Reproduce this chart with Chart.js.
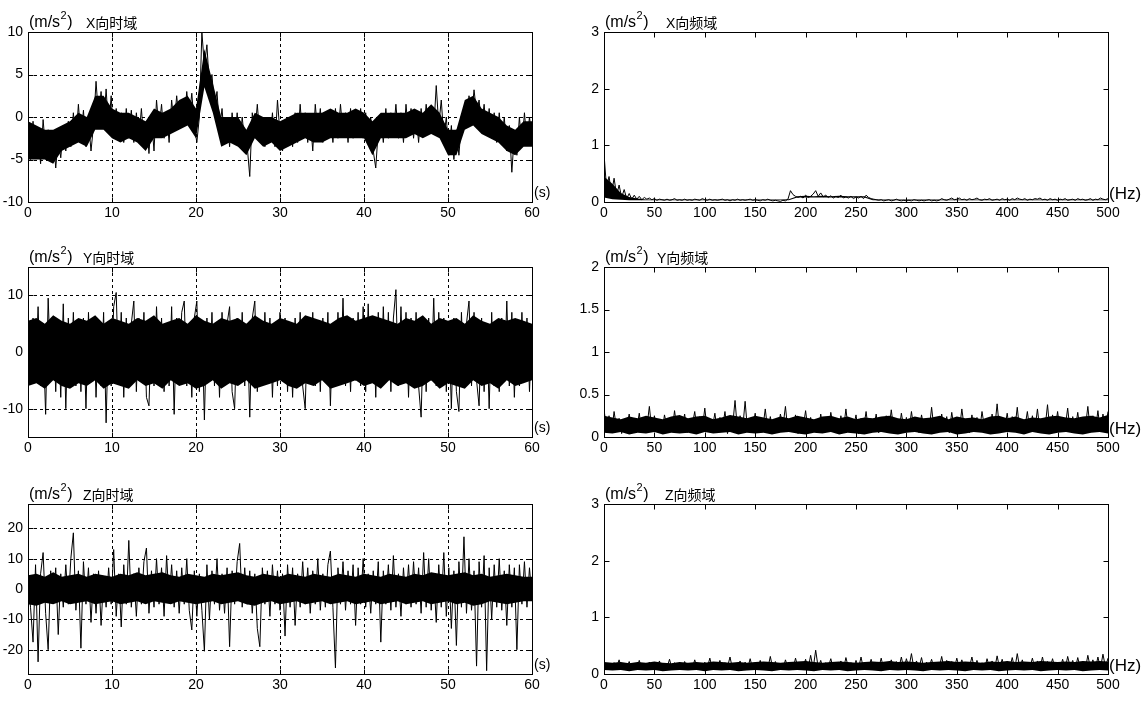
<!DOCTYPE html>
<html><head><meta charset="utf-8">
<script src="https://cdn.jsdelivr.net/npm/chart.js@4.4.1/dist/chart.umd.min.js"></script>
<style>
html,body{margin:0;padding:0;background:#fff;width:1143px;height:703px;overflow:hidden}
canvas{position:absolute}
</style></head><body>
<script>
// ---------- tick labels ----------
const timeTicks = [0,10,20,30,40,50,60];
const freqTicks = [0,50,100,150,200,250,300,350,400,450,500];
const xTimeYTicks = [-10,-5,0,5,10];
const yTimeYTicks = [-10,0,10];
const zTimeYTicks = [-20,-10,0,10,20];
const xFreqYTicks = [0,1,2,3];
const yFreqYTicks = [0,0.5,1,1.5,2];
const zFreqYTicks = [0,1,2,3];

// ---------- traces (peaks / troughs), time 0..60 s, freq 0..500 Hz ----------
const xTime = [
-1,-5,-0.5,-4.5,-2,-5.5,-0.3,-4,-1.5,-5,-2,-6,-2.5,-4.8,
-1.5,-4,-0.5,-3.5,0.5,-3,1.5,-2.5,0.8,-3.5,
-0.5,-4,-1,
4.2,0,3,-1,3.3,-1.5,2.5,
-2.5,1,-2,0.5,-3,1,-2.5,
0.8,-3,0.5,-2.5,1,-3,
-0.5,-4.3,0,-4,
2,-1.5,1.5,
-2.5,0.5,-3,
2,-1,2.5,-0.5,2,-0.5,3,0,2.8,-1,
-3,0,
10,6,8.5,3.5,5,1,3,-1.5,
1,-3,0,-3.5,0.5,-3,0.5,-3.5,0,-3,
-3.5,-7,
0.5,-2,1.5,-2.5,
-0.5,-3.5,0,-3,0.5,-3.5,2,-2,
-4,-1,-3.5,
0,-3.5,0.5,-3,1.5,-2.5,0.5,-3,0,-4,1.5,-2,1,-3,0.5,-2.5,0,-3,1,-2.5,1.5,-2,0.5,-3,1,-2.5,0.5,-2,1,-2.5,
0.5,-2.5,0,-4,-6,-1.5,
0,-3,1,-2.5,0.5,-2,1.5,-2.5,0.5,-3,1.5,-2,1,-2.5,0.5,-3,1,-2,1.5,-1.5,
0.5,-1.5,3.7,-1,2,-2.5,
0,-4.5,-1,-5,-1.5,-4.5,-0.5,
1,-1,2.5,0,3.2,0.5,
2,-1,1.5,-2,1,-2.5,0.5,-3,
0.5,-3,0,-4,-1,-6.5,-2,-4.5,0,
-3.5,0.5,-3,0,-2.5
];
const yTime = [
4,-5,6,-4,8,-6,3,-11,9.5,-3,6,-7,5,-8,8.5,-10,6,-5,7,-6,
5,-7,6,-10,7,-5,6,-8,4,-6,7,-12.5,5,-6,8,10.5,-5,7,-8,6,
-6,5,9,-7,6,-5,7,-8,-9.5,5,-6,8,-4,6,-7,5,-6,8,-11,6,
-5,7,9,-6,5,-8,6,9,-7,5,-12,6,-5,7,-6,5,-8,7,-6,5,
8,-7,-10,6,-5,7,-6,5,-11.5,6,9,-7,5,-6,7,-5,6,-8,5,-6,
7,-5,6,-7,5,-8,6,-5,7,-6,-10,6,-5,7,-6,5,-7,6,-5,7,
-9.5,5,-6,7,-5,9.5,-6,5,-7,6,-5,7,-6,8,-7,8.5,-5,6,-8,7,
-6,8,-5,7,-7,6,11,-6,8,-5,7,-8,6,-5,7,-6,-11.5,5,-7,6,
-5,9.5,-6,7,-5,6,-7,5,-10,6,-7,-10.5,7,-6,5,9,-6,7,-5,-9.5,
6,-7,5,-10,7,-6,5,-7,6,-5,9,-6,7,-8,5,-6,7,-5,6,-7,4
];
const zTime = [
3,-6,-17.5,8,-24,5,12,-8,-20,6,-4,7,-15,5,-6,8,-5,10,18.5,-7,
6,-19.5,9,-5,7,-11,5,-8,6,-12,4,-6,7,-5,13,-9,5,-12.5,8,-5,
16,-6,5,-9,7,-5,9,13.5,-8,6,-6,10,-5,7,-9,11,-4,8,-6,6,
-8,7,-5,10,-7,-13.5,6,-9,5,-7,-20.5,8,-10,6,-5,10,-7,5,-8,7,
-19,6,-5,9,15,-6,7,-5,6,-8,5,-13,-19,7,-5,6,-9,8,-5,6,
-7,5,-15.5,8,-6,7,-12,5,-6,9,-5,7,-8,6,-5,10,-7,5,-6,8,
12.5,-6,-26,7,-5,9,-7,6,-5,8,-12,7,-5,10,-6,5,-8,6,-5,9,
-17.5,6,-5,8,-7,11,-6,5,-9,7,-5,8,-6,9,-5,7,-8,12,-6,10,
-7,5,-11,8,-6,12,-9,7,-13,6,-18.6,9,-6,17.2,-8,10,-7,6,-25.4,9,
-6,11,-26.9,7,-10,8,-6,10,-7,6,-12,8,-6,7,-20,8,-5,9,-6,7,-3
];
const xFreq = [
0.85,0.25,0.45,0.15,0.42,0.12,0.3,0.08,0.22,0.06,0.15,0.05,0.12,0.05,0.1,0.04,0.08,0.05,0.07,0.04,
0.06,0.03,0.05,0.04,0.03,0.05,0.03,0.04,0.06,0.03,0.04,0.03,0.05,0.03,0.04,0.03,0.05,0.04,0.03,0.06,
0.04,0.03,0.05,0.03,0.04,0.03,0.04,0.05,0.03,0.04,0.02,0.04,0.03,0.05,0.03,0.04,0.03,0.04,0.05,0.03,
0.04,0.03,0.02,0.04,0.03,0.05,0.03,0.02,0.03,0.02,0.01,0.03,0.02,0.05,0.2,0.13,0.1,0.08,0.1,0.07,
0.12,0.08,0.1,0.14,0.2,0.1,0.16,0.09,0.12,0.08,0.11,0.07,0.1,0.08,0.12,0.07,0.09,0.07,0.1,0.06,
0.09,0.07,0.1,0.06,0.12,0.08,0.06,0.05,0.04,0.03,0.04,0.02,0.03,0.04,0.02,0.03,0.05,0.03,0.02,0.03,
0.02,0.03,0.02,0.04,0.03,0.02,0.03,0.02,0.03,0.04,0.02,0.03,0.02,0.03,0.06,0.04,0.03,0.05,0.07,0.04,
0.05,0.07,0.04,0.05,0.03,0.06,0.04,0.05,0.07,0.04,0.03,0.05,0.04,0.06,0.03,0.04,0.05,0.03,0.06,0.04,
0.05,0.03,0.06,0.04,0.07,0.05,0.04,0.06,0.03,0.05,0.04,0.06,0.05,0.07,0.04,0.05,0.03,0.06,0.04,0.05,
0.03,0.05,0.04,0.06,0.03,0.04,0.05,0.03,0.06,0.04,0.05,0.03,0.04,0.06,0.03,0.05,0.04,0.07,0.05,0.04,0.06
];
const yFreq = [
0.33,0.08,0.25,0.05,0.3,0.1,0.22,0.04,0.2,0.12,0.27,0.06,0.18,0.1,0.28,0.05,0.21,0.11,0.36,0.07,
0.25,0.09,0.19,0.05,0.26,0.12,0.2,0.06,0.31,0.08,0.22,0.1,0.27,0.05,0.19,0.13,0.3,0.07,0.24,0.09,
0.34,0.06,0.21,0.11,0.28,0.05,0.23,0.1,0.3,0.04,0.2,0.12,0.43,0.07,0.25,0.09,0.42,0.06,0.22,0.11,
0.28,0.05,0.2,0.1,0.33,0.07,0.24,0.09,0.19,0.05,0.27,0.12,0.36,0.06,0.22,0.1,0.26,0.04,0.2,0.11,
0.31,0.07,0.23,0.09,0.18,0.05,0.27,0.1,0.21,0.06,0.29,0.12,0.2,0.05,0.25,0.08,0.33,0.07,0.19,0.11,
0.26,0.04,0.22,0.1,0.3,0.06,0.18,0.09,0.27,0.05,0.21,0.12,0.25,0.07,0.32,0.08,0.2,0.05,0.28,0.1,
0.23,0.06,0.3,0.09,0.19,0.05,0.26,0.11,0.22,0.07,0.35,0.08,0.2,0.06,0.27,0.1,0.24,0.05,0.29,0.09,
0.21,0.07,0.33,0.1,0.2,0.05,0.26,0.08,0.23,0.06,0.3,0.11,0.19,0.05,0.27,0.09,0.39,0.07,0.22,0.1,
0.28,0.06,0.24,0.09,0.35,0.05,0.21,0.11,0.3,0.07,0.25,0.08,0.33,0.06,0.2,0.1,0.38,0.05,0.26,0.09,
0.3,0.07,0.22,0.11,0.34,0.06,0.24,0.09,0.29,0.05,0.21,0.1,0.36,0.07,0.25,0.08,0.31,0.06,0.27,0.1,0.3
];
const zFreq = [
0.2,0.1,0.17,0.08,0.2,0.12,0.25,0.09,0.18,0.11,0.22,0.08,0.16,0.1,0.24,0.09,0.17,0.12,0.21,0.08,
0.19,0.1,0.23,0.07,0.18,0.11,0.26,0.09,0.2,0.1,0.17,0.08,0.22,0.11,0.19,0.09,0.25,0.1,0.18,0.08,
0.21,0.11,0.28,0.09,0.19,0.1,0.24,0.08,0.2,0.12,0.3,0.09,0.18,0.11,0.23,0.08,0.21,0.1,0.27,0.09,
0.19,0.11,0.24,0.08,0.2,0.1,0.31,0.09,0.22,0.1,0.18,0.08,0.25,0.11,0.2,0.09,0.28,0.1,0.21,0.12,
0.26,0.09,0.33,0.1,0.42,0.11,0.24,0.08,0.2,0.12,0.27,0.09,0.19,0.1,0.23,0.08,0.29,0.11,0.2,0.09,
0.24,0.1,0.3,0.08,0.19,0.11,0.26,0.09,0.21,0.1,0.28,0.08,0.2,0.12,0.25,0.09,0.22,0.1,0.3,0.08,
0.27,0.11,0.36,0.09,0.23,0.1,0.29,0.08,0.21,0.12,0.26,0.09,0.2,0.1,0.31,0.08,0.24,0.11,0.22,0.09,
0.28,0.1,0.25,0.08,0.21,0.12,0.3,0.09,0.24,0.1,0.2,0.08,0.27,0.11,0.23,0.09,0.32,0.1,0.26,0.08,
0.22,0.11,0.29,0.09,0.36,0.1,0.25,0.08,0.21,0.12,0.28,0.09,0.23,0.1,0.3,0.08,0.22,0.11,0.27,0.09,
0.2,0.1,0.26,0.08,0.31,0.12,0.24,0.09,0.29,0.1,0.22,0.08,0.33,0.11,0.25,0.09,0.3,0.1,0.35,0.12,0.28
];

// ---------- dense core of each trace (upper / lower edge of the solid band), 61 samples ----------
const xTimeHi = [-0.5,-1,-1.5,-1.5,-1,-0.5,0.5,0,2.5,2.5,1,0.5,0.5,0,-0.5,1,0.5,1,2,2.5,1,8,4,0,0,0,-1.5,0.5,0,0,-0.5,0,0.5,0.5,0.5,0.5,1,0.5,0.5,1,0.5,-0.5,0.5,0.5,0.5,0.5,1,0.5,1.5,0.5,-1.5,-1.5,2,2.5,1,0.5,0,-1,-1.5,-0.5,-0.5];
const xTimeLo = [-5,-5,-5,-5.5,-4,-3.5,-3,-3.5,-1.5,-1.5,-2.5,-3,-2.5,-3,-4,-2.5,-2.5,-2,-1.5,-1,-2.5,3.5,0.5,-3.5,-3,-3.5,-4.5,-2.5,-3.5,-3,-4,-3.5,-3,-2.5,-3,-3,-2.5,-2.5,-2.5,-2.5,-2.5,-4.5,-2.5,-2.5,-2.5,-2.5,-2,-2.5,-2,-2.5,-4.5,-4.5,-1.5,-1,-2,-2.5,-3,-4,-4.5,-3.5,-3.5];
const yTimeHi = [5.5,6,5,6.5,5.5,5,6,5.5,6.5,5,6,5.5,5,6,5.5,6.5,5,5.5,6,5,6.5,5.5,5,6,5.5,6,5,6.5,5.5,5,6,5.5,5,6.5,6,5.5,5,6,6.5,5.5,6,6.5,6,5.5,5,6,5.5,6.5,5,6,5.5,6,5,6.5,5.5,5,6,5.5,6,5.5,5];
const yTimeLo = [-6,-5.5,-6.5,-5,-6,-6.5,-5.5,-6,-5,-6.5,-5.5,-6,-6.5,-5,-6,-5.5,-6.5,-5,-6,-5.5,-6.5,-6,-5,-6.5,-5.5,-6,-5,-6.5,-6,-5.5,-5,-6,-6.5,-5.5,-6,-5,-6.5,-6,-5.5,-5,-6,-5.5,-6.5,-5,-6,-5.5,-6.5,-6,-5,-6.5,-5.5,-6,-6.5,-5,-6,-5.5,-6.5,-5,-6,-5.5,-5];
const zTimeHi = [4.5,5,4,5.5,4,4.5,5,4,5,4.5,4,5,4.5,5.5,4.5,5,5.5,4.5,4,5,4.5,4,5,4.5,5,5.5,4.5,4,5,4.5,4,5,4.5,4,5,4.5,4,5,4.5,4,5,4.5,4,5,4.5,4,5,4.5,5.5,5,4.5,5,5.5,4.5,5,4,4.5,5,4.5,4,4];
const zTimeLo = [-5,-5.5,-4.5,-5,-4,-5,-4.5,-4,-5,-4.5,-4,-5,-4.5,-4,-5,-4,-4.5,-5,-4,-4.5,-5,-4.5,-4,-5,-4.5,-4,-5,-5.5,-4.5,-4,-5,-4.5,-4,-5,-4.5,-4,-5,-4.5,-4,-5,-4.5,-4,-5,-4.5,-4,-5,-4.5,-4,-5,-4.5,-4,-5,-4.5,-5.5,-5,-4,-4.5,-5,-4.5,-4,-4];
const xFreqHi = [0.45,0.32,0.16,0.09,0.06,0.045,0.045,0.045,0.045,0.045,0.045,0.045,0.045,0.045,0.045,0.045,0.045,0.045,0.045,0.045,0.045,0.045,0.05,0.1,0.11,0.1,0.11,0.1,0.11,0.1,0.1,0.1,0.05,0.045,0.045,0.045,0.045,0.045,0.045,0.045,0.045,0.045,0.045,0.045,0.045,0.045,0.045,0.045,0.045,0.045,0.045,0.045,0.045,0.045,0.045,0.045,0.045,0.045,0.045,0.045,0.045];
const xFreqLo = [0.08,0.05,0.04,0.03,0.03,0.03,0.03,0.03,0.03,0.03,0.03,0.03,0.03,0.03,0.03,0.03,0.03,0.03,0.03,0.03,0.03,0.03,0.03,0.08,0.08,0.08,0.08,0.08,0.08,0.08,0.08,0.08,0.03,0.03,0.03,0.03,0.03,0.03,0.03,0.03,0.03,0.03,0.03,0.03,0.03,0.03,0.03,0.03,0.03,0.03,0.03,0.03,0.03,0.03,0.03,0.03,0.03,0.03,0.03,0.03,0.03];
const yFreqHi = [0.25,0.23,0.21,0.24,0.22,0.25,0.23,0.21,0.24,0.26,0.22,0.24,0.25,0.21,0.23,0.26,0.24,0.22,0.25,0.23,0.21,0.24,0.22,0.25,0.23,0.21,0.24,0.25,0.22,0.24,0.21,0.23,0.22,0.24,0.25,0.22,0.21,0.24,0.22,0.23,0.25,0.21,0.24,0.22,0.23,0.21,0.24,0.25,0.22,0.24,0.21,0.23,0.22,0.24,0.25,0.23,0.22,0.24,0.25,0.23,0.26];
const yFreqLo = [0.05,0.04,0.06,0.03,0.05,0.04,0.06,0.03,0.05,0.04,0.05,0.03,0.06,0.04,0.05,0.06,0.03,0.05,0.04,0.05,0.03,0.05,0.06,0.04,0.03,0.05,0.04,0.06,0.03,0.05,0.04,0.03,0.05,0.06,0.04,0.03,0.05,0.06,0.04,0.03,0.05,0.06,0.03,0.04,0.06,0.05,0.03,0.04,0.06,0.05,0.03,0.06,0.04,0.03,0.05,0.06,0.04,0.03,0.05,0.06,0.04];
const zFreqHi = [0.21,0.2,0.21,0.19,0.21,0.2,0.22,0.2,0.19,0.21,0.2,0.21,0.2,0.22,0.21,0.2,0.21,0.2,0.21,0.22,0.21,0.2,0.21,0.22,0.23,0.21,0.2,0.21,0.22,0.21,0.2,0.21,0.22,0.21,0.23,0.21,0.22,0.21,0.2,0.21,0.22,0.23,0.21,0.22,0.21,0.2,0.22,0.21,0.23,0.21,0.22,0.21,0.23,0.22,0.21,0.22,0.21,0.23,0.22,0.23,0.22];
const zFreqLo = [0.07,0.06,0.07,0.05,0.07,0.06,0.07,0.05,0.06,0.07,0.06,0.07,0.05,0.07,0.06,0.07,0.05,0.06,0.07,0.06,0.05,0.07,0.06,0.07,0.06,0.05,0.07,0.06,0.07,0.05,0.06,0.07,0.06,0.05,0.07,0.06,0.07,0.06,0.05,0.07,0.06,0.07,0.06,0.05,0.07,0.06,0.07,0.05,0.06,0.07,0.06,0.07,0.05,0.06,0.07,0.06,0.07,0.05,0.06,0.07,0.06];

// ---------- layout ----------
const FONT = "'Liberation Sans', Arial, 'Noto Sans CJK SC', sans-serif";
const panels = [
  {data:xTime, hi:xTimeHi, lo:xTimeLo, xMax:60,  xTicks:timeTicks, yMin:-10, yMax:10, yTicks:xTimeYTicks, left:0,   top:0,   w:560, grid:true,  unit:'(s)',  title:'X向时域', tOff:58},
  {data:xFreq, hi:xFreqHi, lo:xFreqLo, xMax:500, xTicks:freqTicks, yMin:0,   yMax:3,  yTicks:xFreqYTicks, left:576, top:0,   w:567, grid:false, unit:'(Hz)', title:'X向频域', tOff:62},
  {data:yTime, hi:yTimeHi, lo:yTimeLo, xMax:60,  xTicks:timeTicks, yMin:-15, yMax:15, yTicks:yTimeYTicks, left:0,   top:235, w:560, grid:true,  unit:'(s)',  title:'Y向时域', tOff:55},
  {data:yFreq, hi:yFreqHi, lo:yFreqLo, xMax:500, xTicks:freqTicks, yMin:0,   yMax:2,  yTicks:yFreqYTicks, left:576, top:235, w:567, grid:false, unit:'(Hz)', title:'Y向频域', tOff:53},
  {data:zTime, hi:zTimeHi, lo:zTimeLo, xMax:60,  xTicks:timeTicks, yMin:-28, yMax:28, yTicks:zTimeYTicks, left:0,   top:472, w:560, grid:true,  unit:'(s)',  title:'Z向时域', tOff:55},
  {data:zFreq, hi:zFreqHi, lo:zFreqLo, xMax:500, xTicks:freqTicks, yMin:0,   yMax:3,  yTicks:zFreqYTicks, left:576, top:472, w:567, grid:false, unit:'(Hz)', title:'Z向频域', tOff:61}
];
const CH = 226, YAXW = 28, XAXH = 24, PADTOP = 32, PLOTW = 504;

const decorPlugin = {
  id: 'decor',
  beforeDatasetsDraw(chart, args, o) {
    if (!o.grid) return;
    const {ctx, chartArea: a, scales: {x, y}} = chart;
    ctx.save();
    ctx.strokeStyle = '#000'; ctx.lineWidth = 1; ctx.setLineDash([3, 3]);
    x.ticks.forEach(t => {
      const px = Math.round(x.getPixelForValue(t.value)) + 0.5;
      ctx.beginPath(); ctx.moveTo(px, a.top); ctx.lineTo(px, a.bottom); ctx.stroke();
    });
    y.ticks.forEach(t => {
      const py = Math.round(y.getPixelForValue(t.value)) + 0.5;
      ctx.beginPath(); ctx.moveTo(a.left, py); ctx.lineTo(a.right, py); ctx.stroke();
    });
    ctx.restore();
  },
  afterDatasetsDraw(chart, args, o) {
    const {ctx, chartArea: a, scales: {x, y}} = chart;
    ctx.save();
    ctx.strokeStyle = '#000'; ctx.lineWidth = 1; ctx.setLineDash([]);
    const L = Math.round(a.left) + 0.5, R = Math.round(a.right) + 0.5;
    const T = Math.round(a.top) + 0.5, B = Math.round(a.bottom) + 0.5;
    ctx.strokeRect(L, T, R - L, B - T);
    const tl = 5;
    x.ticks.forEach(t => {
      const px = Math.round(x.getPixelForValue(t.value)) + 0.5;
      ctx.beginPath(); ctx.moveTo(px, T); ctx.lineTo(px, T + tl); ctx.moveTo(px, B); ctx.lineTo(px, B - tl); ctx.stroke();
    });
    y.ticks.forEach(t => {
      const py = Math.round(y.getPixelForValue(t.value)) + 0.5;
      ctx.beginPath(); ctx.moveTo(L, py); ctx.lineTo(L + tl, py); ctx.moveTo(R, py); ctx.lineTo(R - tl, py); ctx.stroke();
    });
    ctx.restore();
  },
  afterDraw(chart, args, o) {
    const {ctx, chartArea: a} = chart;
    ctx.save();
    ctx.fillStyle = '#000';
    ctx.textBaseline = 'alphabetic';
    ctx.textAlign = 'left';
    let xx = a.left + 1;
    const base = a.top - 5;
    ctx.font = '16px ' + FONT;
    ctx.fillText('(m/s', xx, base);
    xx += ctx.measureText('(m/s').width + 0.5;
    ctx.font = '11px ' + FONT;
    ctx.fillText('2', xx, base - 8);
    xx += ctx.measureText('2').width + 0.5;
    ctx.font = '16px ' + FONT;
    ctx.fillText(')', xx, base);
    ctx.font = '14px ' + FONT;
    ctx.fillText(o.title, a.left + o.tOff, base + 1);
    if (o.unit === '(s)') {
      ctx.font = '14px ' + FONT;
      ctx.fillText(o.unit, a.right + 2, a.bottom - 5);
    } else {
      ctx.font = '17px ' + FONT;
      ctx.fillText(o.unit, a.right + 1, a.bottom - 3);
    }
    ctx.restore();
  }
};

const toPts = (arr, xMax) => arr.map((v, i) => ({x: i * xMax / (arr.length - 1), y: v}));

panels.forEach(p => {
  const cv = document.createElement('canvas');
  cv.width = p.w; cv.height = CH;
  cv.style.left = p.left + 'px'; cv.style.top = p.top + 'px';
  cv.style.width = p.w + 'px'; cv.style.height = CH + 'px';
  document.body.appendChild(cv);
  new Chart(cv.getContext('2d'), {
    type: 'line',
    data: {datasets: [
      {data: toPts(p.hi, p.xMax), borderWidth: 0, borderColor: 'rgba(0,0,0,0)', pointRadius: 0, tension: 0, fill: false},
      {data: toPts(p.lo, p.xMax), borderWidth: 0, borderColor: 'rgba(0,0,0,0)', backgroundColor: '#000', pointRadius: 0, tension: 0, fill: '-1'},
      {data: toPts(p.data, p.xMax), borderColor: '#000', borderWidth: 1, pointRadius: 0, tension: 0, fill: false, borderJoinStyle: 'miter'}
    ]},
    plugins: [decorPlugin],
    options: {
      responsive: false, animation: false, devicePixelRatio: 1,
      layout: {padding: {left: 0, right: p.w - YAXW - PLOTW, top: PADTOP, bottom: 0}},
      plugins: {
        legend: {display: false}, tooltip: {enabled: false}, title: {display: false},
        filler: {propagate: false},
        decor: {grid: p.grid, unit: p.unit, title: p.title, tOff: p.tOff}
      },
      scales: {
        x: {
          type: 'linear', min: 0, max: p.xMax,
          grid: {display: false, drawTicks: false}, border: {display: false},
          afterBuildTicks: s => { s.ticks = p.xTicks.map(v => ({value: v})); },
          afterFit: s => { s.height = XAXH; },
          ticks: {color: '#000', font: {family: FONT, size: 14}, padding: 3, maxRotation: 0, autoSkip: false, callback: v => String(v)}
        },
        y: {
          type: 'linear', min: p.yMin, max: p.yMax,
          grid: {display: false, drawTicks: false}, border: {display: false},
          afterBuildTicks: s => { s.ticks = p.yTicks.map(v => ({value: v})); },
          afterFit: s => { s.width = YAXW; },
          ticks: {color: '#000', font: {family: FONT, size: 14}, padding: 5, autoSkip: false, callback: v => String(v)}
        }
      }
    }
  });
});
</script>
</body></html>
